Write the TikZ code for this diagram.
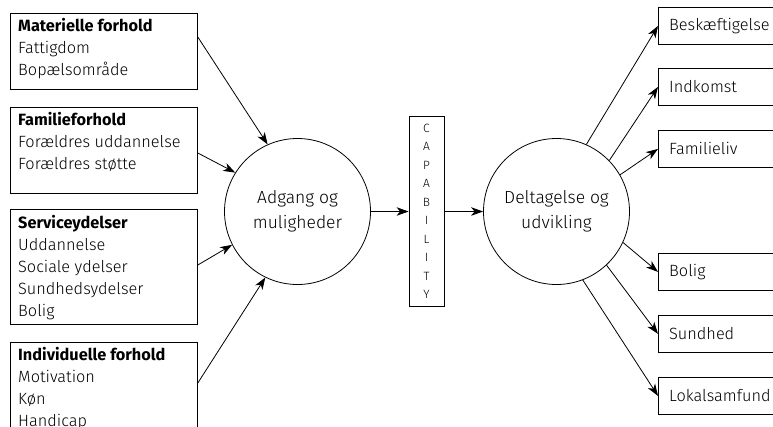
\documentclass[tikz,border=0pt]{standalone}
\usepackage{fontspec}
\setmainfont{Fira Sans}[UprightFont=* Light, BoldFont=* Bold]
\usetikzlibrary{arrows.meta,calc}
\begin{document}
\begin{tikzpicture}[x=1pt,y=-1pt,
  box/.style={draw, line width=0.8pt, inner sep=0pt, anchor=north west},
  rbox/.style={box, minimum width=160, minimum height=37},
  circ/.style={draw, circle, line width=0.8pt, minimum size=146pt, inner sep=0pt,
    align=center, font=\fontsize{17.5}{25}\selectfont},
  lbl/.style={anchor=north west, inner sep=0pt, align=left, font=\fontsize{16.3}{22}\selectfont},
  rlbl/.style={anchor=west, inner sep=0pt, font=\fontsize{16.3}{22}\selectfont},
  arr/.style={-{Stealth[length=12pt,width=8.5pt,inset=3.5pt]}, line width=0.8pt}]
\useasboundingbox (0,0) rectangle (773,426);
\clip (0,0) rectangle (773,426);
% left boxes
\node[box, minimum width=187, minimum height=76] (b1) at (10,13) {};
\node[box, minimum width=187, minimum height=86] (b2) at (10,107) {};
\node[box, minimum width=187, minimum height=115] (b3) at (10,209) {};
\node[box, minimum width=187, minimum height=130] (b4) at (10,342) {};
\node[lbl] (t1) at (18,18.5) {\textbf{Materielle forhold}\\Fattigdom\\Bopælsområde};
\node[lbl] (t2) at (18,112.5) {\textbf{Familieforhold}\\Forældres uddannelse\\Forældres støtte};
\node[lbl] (t3) at (18,215.5) {\textbf{Serviceydelser}\\Uddannelse\\Sociale ydelser\\Sundhedsydelser\\Bolig};
\node[lbl] (t4) at (18,347.5) {\textbf{Individuelle forhold}\\Motivation\\Køn\\Handicap};
% circles
\node[circ] (c1) at (297.5,211.5) {Adgang og\\muligheder};
\node[circ] (c2) at (556.5,211.5) {Deltagelse og\\udvikling};
% capability
\node[box, anchor=center, minimum width=35, minimum height=190, align=center,
  font=\fontsize{12}{18.5}\selectfont] (cap) at (426.5,211.5)
  {C\\A\\P\\A\\B\\I\\L\\I\\T\\Y};
% right boxes
\node[rbox] (r1) at (658,7) {};
\node[rbox] (r2) at (658,68) {};
\node[rbox] (r3) at (658,130) {};
\node[rbox] (r4) at (658,253) {};
\node[rbox] (r5) at (658,315) {};
\node[rbox] (r6) at (658,377) {};
\node[rlbl] at ($(r1.west)+(11,0)$) {Beskæftigelse};
\node[rlbl] at ($(r2.west)+(11,0)$) {Indkomst};
\node[rlbl] at ($(r3.west)+(11,0)$) {Familieliv};
\node[rlbl] at ($(r4.west)+(11,0)$) {Bolig};
\node[rlbl] at ($(r5.west)+(11,0)$) {Sundhed};
\node[rlbl] at ($(r6.west)+(11,0)$) {Lokalsamfund};
% arrows left
\draw[arr] (b1.east |- 0,37) -- (c1.114);
\draw[arr] (b2.east |- 0,153) -- (c1.148);
\draw[arr] (b3.east |- 0,265) -- (c1.207);
\draw[arr] (b4.east |- 0,383) -- (c1.244);
% middle
\draw[arr] (c1.east) -- (cap.west);
\draw[arr] (cap.east) -- (c2.west);
% arrows right
\draw[arr] (c2.66) -- (r1.west);
\draw[arr] (c2.44) -- (r2.west);
\draw[arr] (c2.30) -- (r3.west);
\draw[arr] (c2.-25) -- (r4.west);
\draw[arr] (c2.-47) -- (r5.west);
\draw[arr] (c2.-69) -- (r6.west);
\end{tikzpicture}
\end{document}
